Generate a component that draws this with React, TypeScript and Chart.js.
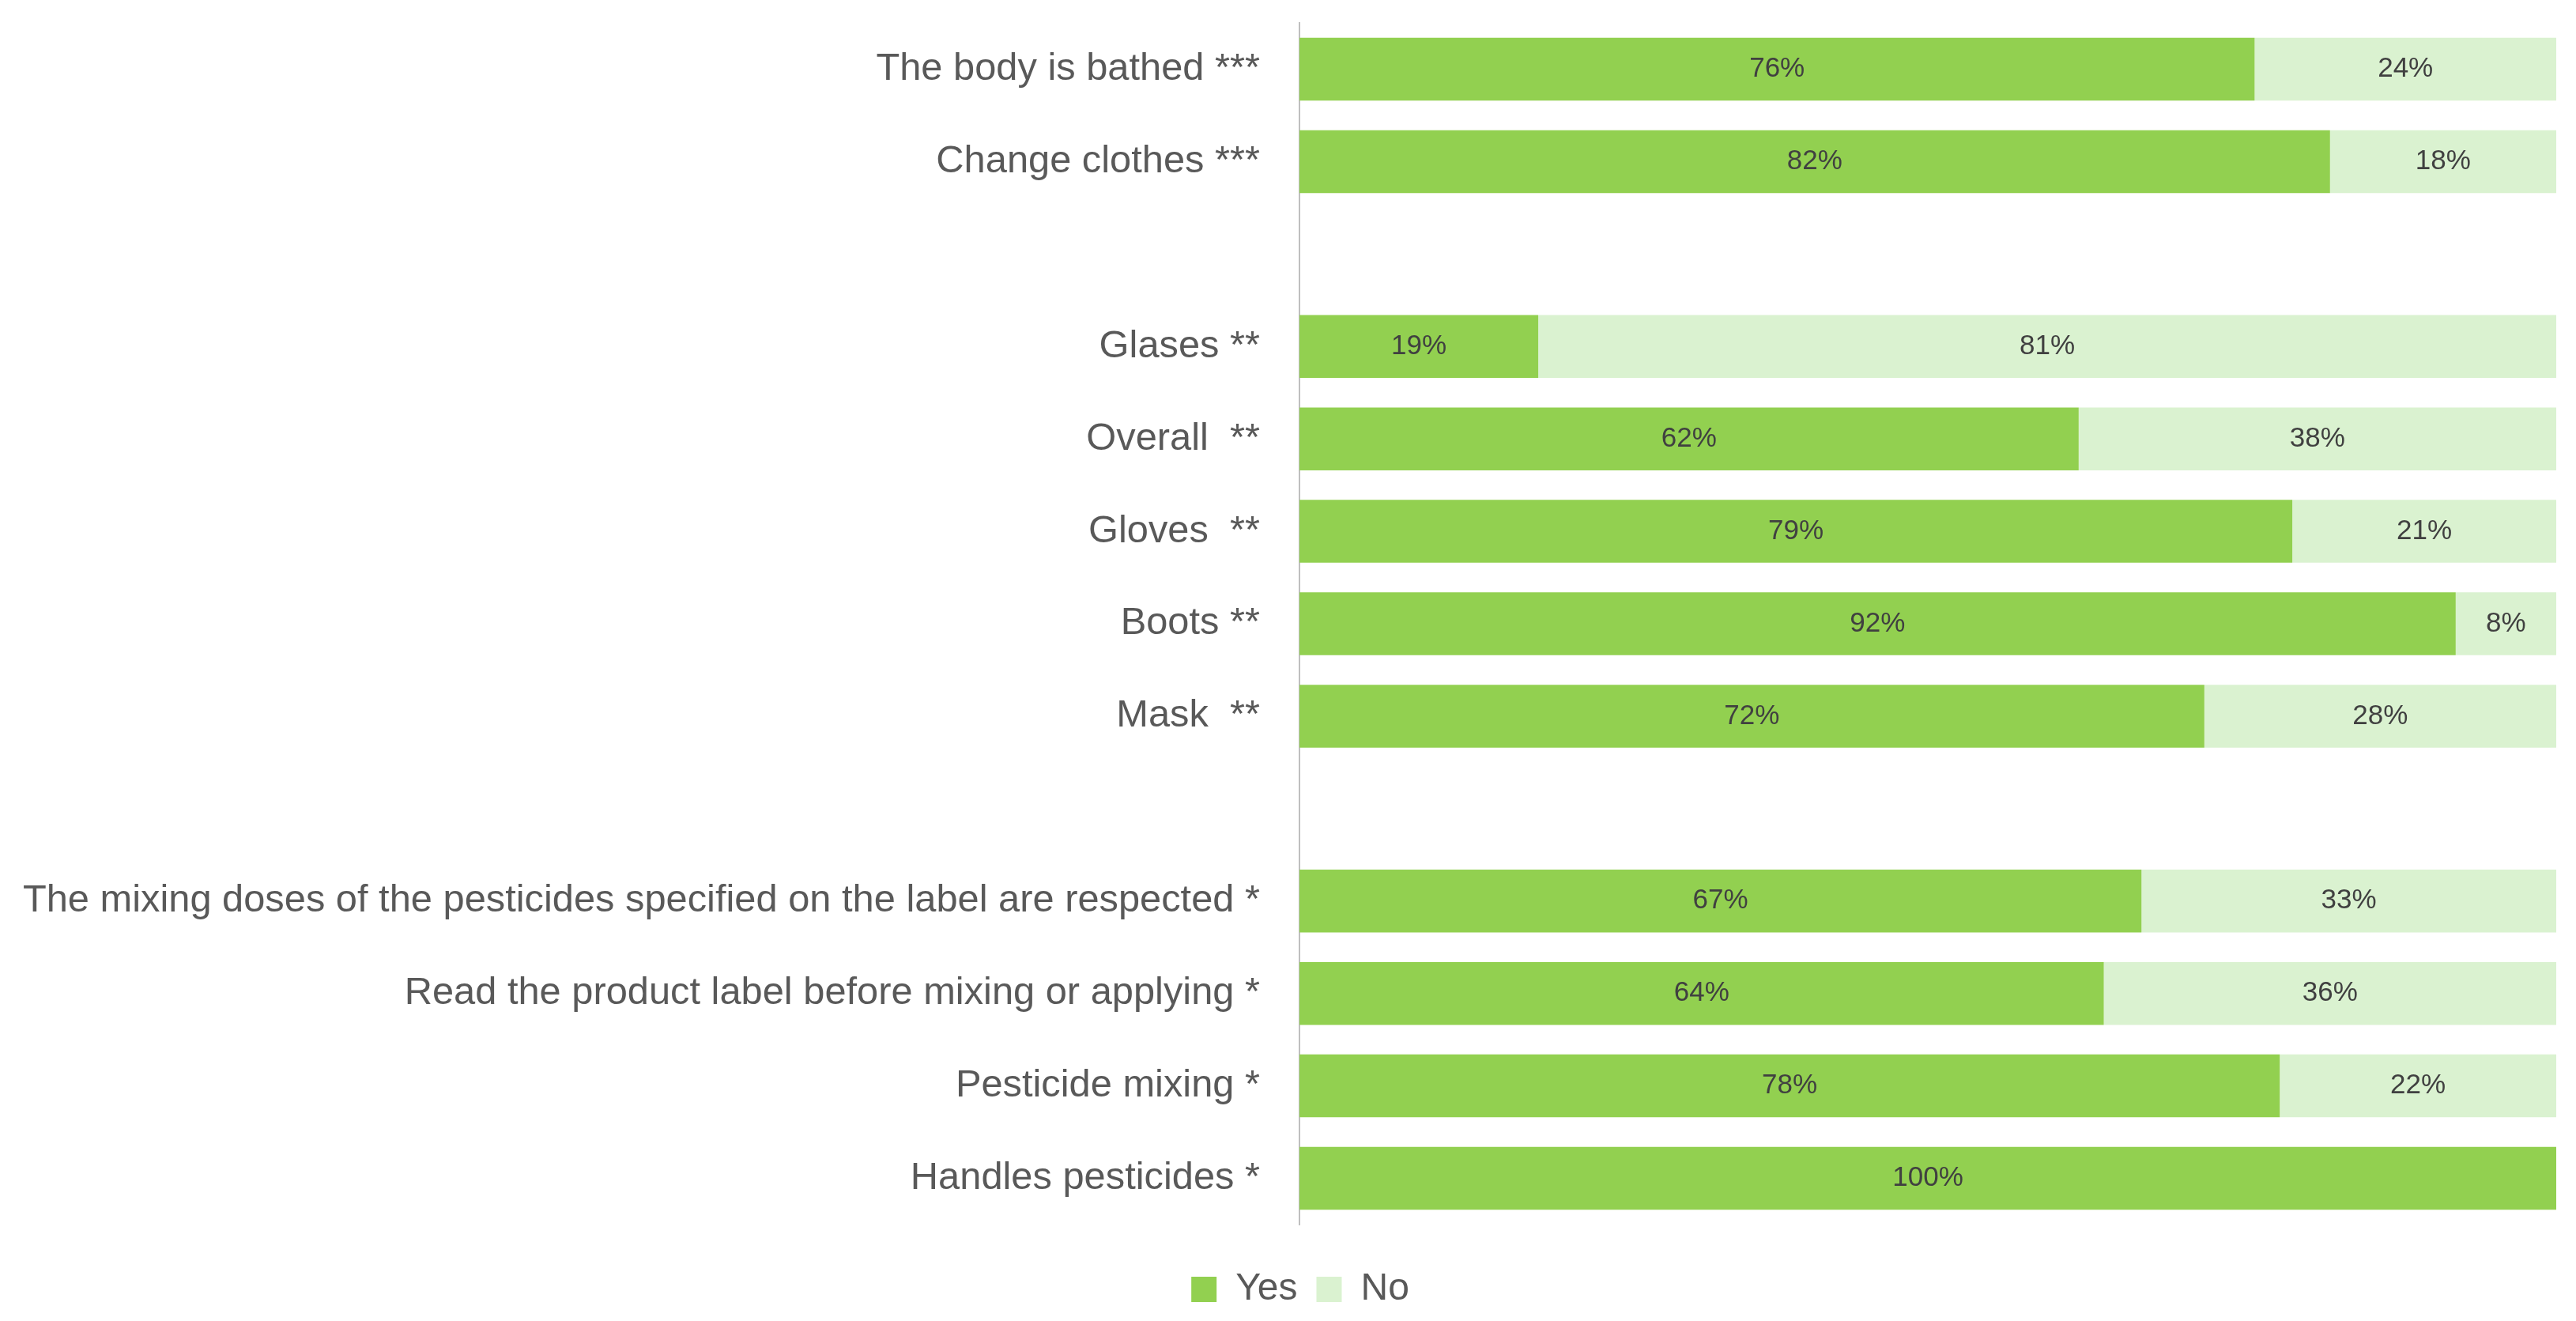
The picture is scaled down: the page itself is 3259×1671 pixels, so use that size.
import React, { useEffect, useRef } from "react";
import { Chart, registerables } from "chart.js";

Chart.register(...registerables);

const categories: string[] = [
  "The body is bathed ***",
  "Change clothes ***",
  "",
  "Glases **",
  "Overall  **",
  "Gloves  **",
  "Boots **",
  "Mask  **",
  "",
  "The mixing doses of the pesticides specified on the label are respected *",
  "Read the product label before mixing or applying *",
  "Pesticide mixing *",
  "Handles pesticides *",
];

const yesValues: (number | null)[] = [76, 82, null, 19, 62, 79, 92, 72, null, 67, 64, 78, 100];
const noValues: (number | null)[] = [24, 18, null, 81, 38, 21, 8, 28, null, 33, 36, 22, 0];

const seriesNames = ["Yes", "No"];

const FONT = "'Liberation Sans', Arial, sans-serif";

const barLabelPlugin = {
  id: "barLabels",
  afterDatasetsDraw(chart: any) {
    const ctx = chart.ctx;
    ctx.save();
    ctx.font = `35px 'Liberation Sans', Arial, sans-serif`;
    ctx.fillStyle = "#404040";
    ctx.textAlign = "center";
    ctx.textBaseline = "middle";
    chart.data.datasets.forEach((ds: any, di: number) => {
      const meta = chart.getDatasetMeta(di);
      meta.data.forEach((el: any, i: number) => {
        const v = ds.data[i];
        if (v === null || v === undefined || v <= 0) return;
        const p = el.getProps(["x", "y", "base"], true);
        ctx.fillText(`${v}%`, (p.x + p.base) / 2, p.y);
      });
    });
    ctx.restore();
  },
};

export default function App() {
  const canvasRef = useRef<HTMLCanvasElement | null>(null);

  useEffect(() => {
    if (!canvasRef.current) return;
    const chart = new Chart(canvasRef.current, {
      type: "bar",
      data: {
        labels: categories,
        datasets: [
          {
            label: seriesNames[0],
            data: yesValues,
            backgroundColor: "#92D050",
            borderWidth: 0,
            categoryPercentage: 1,
            barPercentage: 0.68,
          },
          {
            label: seriesNames[1],
            data: noValues,
            backgroundColor: "#DAF2D0",
            borderWidth: 0,
            categoryPercentage: 1,
            barPercentage: 0.68,
          },
        ],
      },
      options: {
        indexAxis: "y",
        animation: false,
        responsive: false,
        devicePixelRatio: 1,
        layout: { padding: { top: 29, right: 25, left: 56, bottom: 6 } },
        scales: {
          x: {
            stacked: true,
            min: 0,
            max: 100,
            display: true,
            grid: { display: false, drawTicks: false },
            border: { display: false },
            ticks: { display: false },
            afterFit: (scale: any) => {
              scale.height = 34;
              scale.paddingLeft = 0;
              scale.paddingRight = 0;
            },
          },
          y: {
            stacked: true,
            grid: { display: false, drawTicks: false },
            border: { display: true, color: "#BFBFBF", width: 2 },
            ticks: {
              color: "#595959",
              padding: 50,
              autoSkip: false,
              font: { family: FONT, size: 48.8 },
            },
            afterFit: (scale: any) => {
              scale.width = 1644 - 56;
              scale.paddingTop = 0;
              scale.paddingBottom = 0;
              scale._computeLabelArea = () => undefined;
            },
          },
        },
        plugins: {
          legend: {
            position: "bottom",
            labels: {
              color: "#595959",
              boxWidth: 32,
              boxHeight: 32,
              padding: 24,
              font: { family: FONT, size: 48 },
            },
          },
          tooltip: { enabled: false },
        },
      },
      plugins: [barLabelPlugin],
    });
    return () => chart.destroy();
  }, []);

  return (
    <div style={{ position: "fixed", left: 0, top: 0, width: 3259, height: 1671, background: "#fff" }}>
      <canvas ref={canvasRef} width={3259} height={1671} style={{ width: 3259, height: 1671 }} />
    </div>
  );
}
